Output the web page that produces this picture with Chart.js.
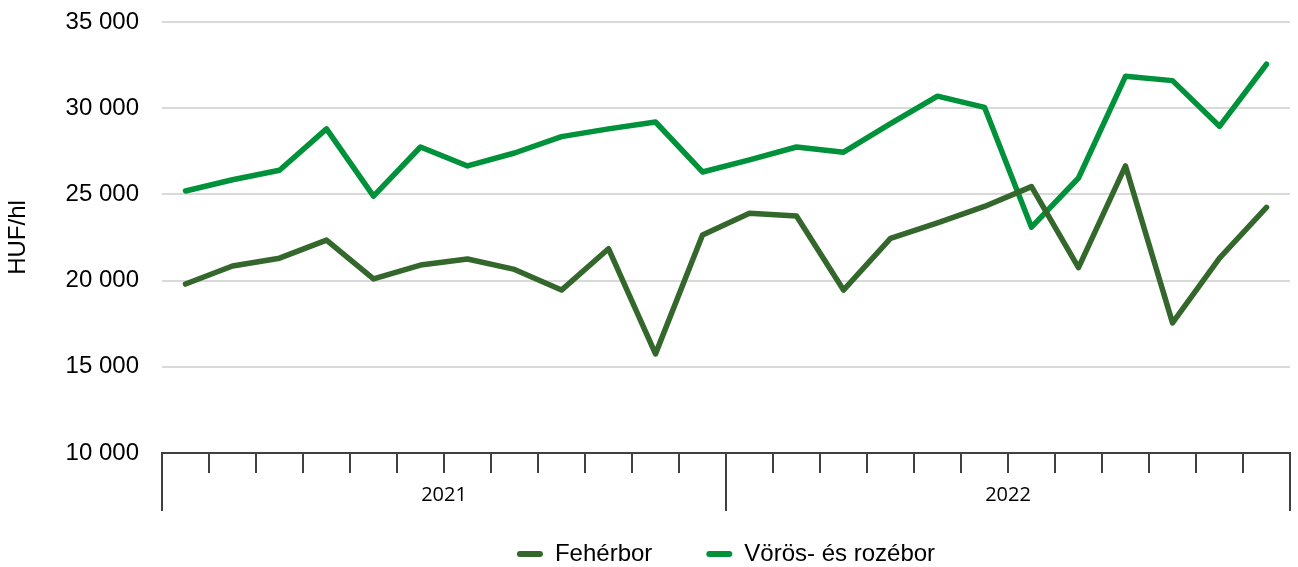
<!DOCTYPE html>
<html>
<head>
<meta charset="utf-8">
<script src="https://cdn.jsdelivr.net/npm/chart.js@4"></script>
<style>
  html, body { margin: 0; padding: 0; background: #fff; }
  #wrap { width: 1298px; height: 567px; }
</style>
</head>
<body>
<div id="wrap"><canvas id="chart" width="1298" height="567"></canvas></div>
<script>
const MONTHS = ['jan', 'feb', 'márc', 'ápr', 'máj', 'jún', 'júl', 'aug', 'szept', 'okt', 'nov', 'dec',
                'jan', 'feb', 'márc', 'ápr', 'máj', 'jún', 'júl', 'aug', 'szept', 'okt', 'nov', 'dec'];
const YEARS = ['2021', '2022'];
const FEHER = [19800, 20850, 21300, 22350, 20100, 20900, 21250, 20650, 19450, 21850, 15750, 22650,
               23900, 23750, 19450, 22450, 23350, 24300, 25450, 20750, 26650, 17550, 21300, 24250];
const VOROS = [25200, 25850, 26400, 28800, 24900, 27750, 26650, 27400, 28350, 28800, 29200, 26300,
               27000, 27750, 27450, 29100, 30700, 30050, 23100, 25950, 31850, 31600, 28950, 32550];

const AXIS_COLOR = '#404040';
const FONT = 'Arial, "Liberation Sans", sans-serif';
const LEGEND_PAD = 54;
const LEGEND_FONT = 24;

const fmt = v => String(v).replace(/\B(?=(\d{3})+(?!\d))/g, ' ');

// long dividers + year labels under the month ticks
const yearAxis = {
  id: 'yearAxis',
  afterDraw(chart) {
    const { ctx, scales: { x }, chartArea } = chart;
    const perYear = MONTHS.length / YEARS.length;
    ctx.save();
    ctx.strokeStyle = AXIS_COLOR;
    ctx.lineWidth = 2;
    for (let i = 0; i <= YEARS.length; i++) {
      const px = Math.round(x.getPixelForValue(i * perYear - 0.5));
      ctx.beginPath();
      ctx.moveTo(px, chartArea.bottom);
      ctx.lineTo(px, 511);
      ctx.stroke();
    }
    ctx.fillStyle = '#000';
    ctx.font = '20px "Open Sans", sans-serif';
    ctx.textAlign = 'center';
    ctx.textBaseline = 'middle';
    YEARS.forEach((y, i) => {
      ctx.fillText(y, x.getPixelForValue(i * perYear + (perYear - 1) / 2), 495);
    });
    ctx.restore();
  }
};

// legend is centred under the plot area, slightly lower than default
const legendPlace = {
  id: 'legendPlace',
  afterLayout(chart) {
    const lg = chart.legend, area = chart.chartArea;
    const dy = 554 - (lg.top + LEGEND_PAD + LEGEND_FONT / 2);
    lg.left = area.left;
    lg.right = area.right;
    lg.width = area.right - area.left;
    lg.top += dy;
    lg.bottom += dy;
  }
};

new Chart(document.getElementById('chart'), {
  type: 'line',
  data: {
    labels: MONTHS,
    datasets: [
      { label: 'Fehérbor', data: FEHER, borderColor: '#34672b', backgroundColor: '#34672b' },
      { label: 'Vörös- és rozébor', data: VOROS, borderColor: '#00923a', backgroundColor: '#00923a' }
    ]
  },
  options: {
    responsive: false,
    animation: false,
    layout: { padding: { top: 22, right: 8, left: 0, bottom: 0 } },
    elements: {
      line: { borderWidth: 5.5, tension: 0, borderCapStyle: 'round', borderJoinStyle: 'round' },
      point: { radius: 0 }
    },
    scales: {
      x: {
        offset: true,
        grid: { offset: true, drawOnChartArea: false, tickLength: 20, color: AXIS_COLOR, lineWidth: 2 },
        border: { display: true, color: AXIS_COLOR, width: 2 },
        ticks: { display: false },
        afterFit: s => { s.height = 26; }
      },
      y: {
        min: 10000,
        max: 35000,
        ticks: { stepSize: 5000, padding: 23, color: '#000', font: { family: FONT, size: 24 }, callback: v => fmt(v) },
        grid: { color: '#d9d9d9', lineWidth: 2, drawTicks: false },
        border: { display: false },
        title: { display: true, text: 'HUF/hl', color: '#000', font: { family: FONT, size: 24 }, padding: { top: 4, bottom: 0 } },
        afterFit: s => { s.width = 162; s.paddingTop = 0; s.paddingBottom = 0; }
      }
    },
    plugins: {
      legend: {
        position: 'bottom',
        labels: {
          boxWidth: 26,
          boxHeight: 6,
          padding: LEGEND_PAD,
          color: '#000',
          font: { family: FONT, size: LEGEND_FONT },
          useBorderRadius: true,
          generateLabels: chart => chart.data.datasets.map((d, i) => ({
            text: d.label,
            fillStyle: d.borderColor,
            strokeStyle: d.borderColor,
            lineWidth: 0,
            borderRadius: 3,
            datasetIndex: i
          }))
        }
      },
      tooltip: { enabled: false }
    }
  },
  plugins: [yearAxis, legendPlace]
});
</script>
</body>
</html>
